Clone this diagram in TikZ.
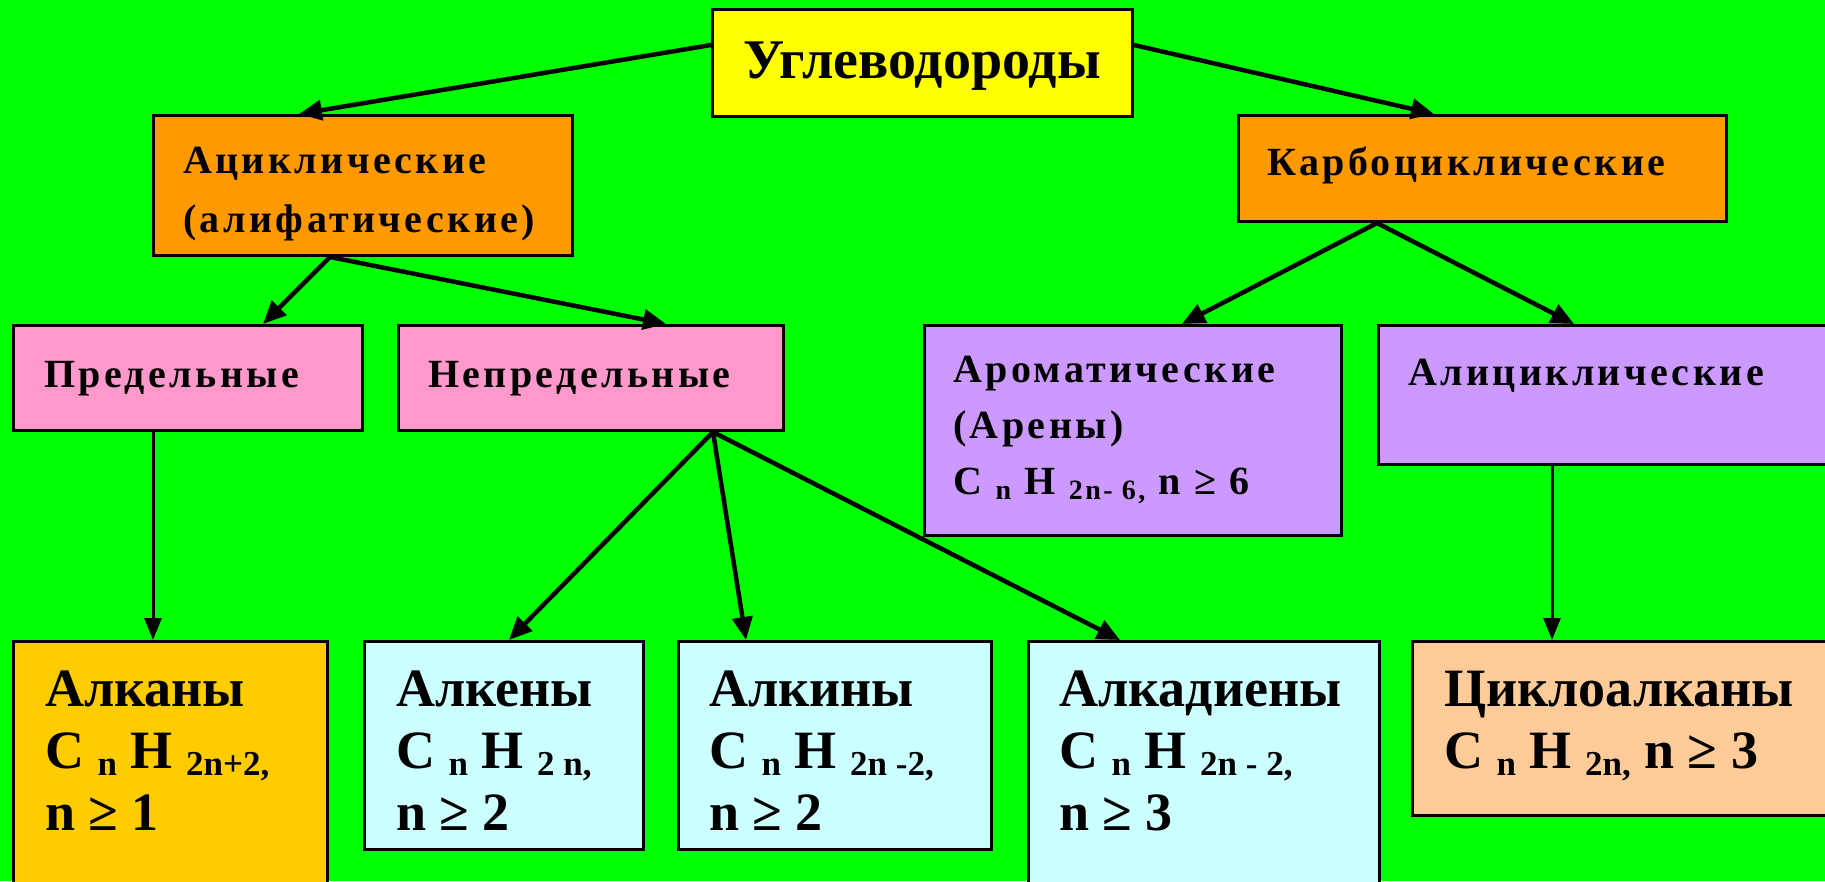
\documentclass[tikz,border=0pt]{standalone}
\usepackage{fontspec}
\setmainfont{Liberation Serif}
\newfontfamily\spacedfont{Liberation Serif}[LetterSpace=8.5]
\usetikzlibrary{arrows.meta,calc}
\definecolor{hcgreen}{HTML}{00FF00}
\definecolor{hcyellow}{HTML}{FFFF00}
\definecolor{hcorange}{HTML}{FF9900}
\definecolor{hcpink}{HTML}{FF99CC}
\definecolor{hcviolet}{HTML}{CC99FF}
\definecolor{hcgold}{HTML}{FFCC00}
\definecolor{hccyan}{HTML}{CCFFFF}
\definecolor{hcpeach}{HTML}{FFCC99}
\newcommand\lo[2][35]{\raisebox{-0.14em}{\fontsize{#1}{#1}\selectfont #2}}
\newcommand\stack[1]{\vtop{\halign{##\hfil\cr#1\crcr}}}
\tikzset{
  hcBox/.style={draw=black, line width=3pt, anchor=north west, inner sep=0pt},
  topText/.style={anchor=base west, inner sep=0pt, font=\fontsize{56}{62}\selectfont\bfseries},
  midText/.style={anchor=base west, inner sep=0pt, font=\spacedfont\fontsize{40}{59}\selectfont\bfseries},
  lowText/.style={anchor=base west, inner sep=0pt, font=\fontsize{54}{62}\selectfont\bfseries},
  hcArrow/.style={-{Triangle[length=23pt,width=20pt]}, line width=4.5pt},
  thinArrow/.style={-{Triangle[length=22pt,width=17pt]}, line width=3pt}
}
\begin{document}
\begin{tikzpicture}[x=1pt,y=-1pt]
  \useasboundingbox (0,0) rectangle (1825,881);
  \clip (0,0) rectangle (1825,881);
  \fill[hcgreen] (0,0) rectangle (1825,881);
  % upper levels
  \node[hcBox, fill=hcyellow, minimum width=420, minimum height=107,
    label={[topText, xshift=32pt, yshift=-70pt]north west:Углеводороды}] (uglevod) at (711,8) {};
  \node[hcBox, fill=hcorange, minimum width=419, minimum height=140,
    label={[midText, xshift=31pt, yshift=-59pt]north west:\stack{Ациклические\cr(алифатические)}}] (acyc) at (152,114) {};
  \node[hcBox, fill=hcorange, minimum width=488, minimum height=106,
    label={[midText, xshift=30pt, yshift=-61pt]north west:Карбоциклические}] (carbo) at (1237,114) {};
  \node[hcBox, fill=hcpink, minimum width=349, minimum height=105,
    label={[midText, xshift=32pt, yshift=-63pt]north west:Предельные}] (pred) at (12,324) {};
  \node[hcBox, fill=hcpink, minimum width=385, minimum height=105,
    label={[midText, xshift=31pt, yshift=-63pt]north west:Непредельные}] (nepred) at (397,324) {};
  \node[hcBox, fill=hcviolet, minimum width=417, minimum height=210,
    label={[midText, font=\spacedfont\fontsize{40}{56}\selectfont\bfseries, xshift=30pt, yshift=-58pt]north west:\stack{Ароматические\cr(Арены)\cr C \lo[28]{n} H \lo[28]{2n- 6,} n ≥ 6}}] (arom) at (923,324) {};
  \node[hcBox, fill=hcviolet, minimum width=460, minimum height=139,
    label={[midText, xshift=31pt, yshift=-61pt]north west:Алициклические}] (alicyc) at (1377,324) {};
  % lower level
  \node[hcBox, fill=hcgold, minimum width=314, minimum height=260,
    label={[lowText, xshift=33pt, yshift=-66pt]north west:\stack{Алканы\cr C \lo{n} H \lo{2n+2,}\cr n ≥ 1}}] (alkany) at (12,640) {};
  \node[hcBox, fill=hccyan, minimum width=279, minimum height=208,
    label={[lowText, xshift=33pt, yshift=-66pt]north west:\stack{Алкены\cr C \lo{n} H \lo{2 n,}\cr n ≥ 2}}] (alkeny) at (363,640) {};
  \node[hcBox, fill=hccyan, minimum width=313, minimum height=208,
    label={[lowText, xshift=32pt, yshift=-66pt]north west:\stack{Алкины\cr C \lo{n} H \lo{2n -2,}\cr n ≥ 2}}] (alkiny) at (677,640) {};
  \node[hcBox, fill=hccyan, minimum width=351, minimum height=260,
    label={[lowText, xshift=32pt, yshift=-66pt]north west:\stack{Алкадиены\cr C \lo{n} H \lo{2n - 2,}\cr n ≥ 3}}] (alkadien) at (1027,640) {};
  \node[hcBox, fill=hcpeach, minimum width=430, minimum height=174,
    label={[lowText, xshift=33pt, yshift=-66pt]north west:\stack{Циклоалканы\cr C \lo{n} H \lo{2n,} n ≥ 3}}] (cyclo) at (1411,640) {};
  % connectors
  \draw[hcArrow] ([yshift=-37pt]uglevod.north west) -- ([xshift=147pt]acyc.north west);
  \draw[hcArrow] ([yshift=-37pt]uglevod.north east) -- ([xshift=197pt]carbo.north west);
  \draw[hcArrow] ([xshift=178pt]acyc.south west) -- ([xshift=251pt]pred.north west);
  \draw[hcArrow] ([xshift=178pt]acyc.south west) -- ([xshift=269pt]nepred.north west);
  \draw[hcArrow] ([xshift=140pt]carbo.south west) -- ([xshift=259pt]arom.north west);
  \draw[hcArrow] ([xshift=140pt]carbo.south west) -- ([xshift=197pt]alicyc.north west);
  \draw[thinArrow] ([xshift=141pt]pred.south west) -- ([xshift=141pt]alkany.north west);
  \draw[hcArrow] ([xshift=316pt]nepred.south west) -- ([xshift=146pt]alkeny.north west);
  \draw[hcArrow] ([xshift=316pt]nepred.south west) -- ([xshift=69pt]alkiny.north west);
  \draw[hcArrow] ([xshift=316pt]nepred.south west) -- ([xshift=93pt]alkadien.north west);
  \draw[thinArrow] ([xshift=175pt]alicyc.south west) -- ([xshift=141pt]cyclo.north west);
\end{tikzpicture}
\end{document}
